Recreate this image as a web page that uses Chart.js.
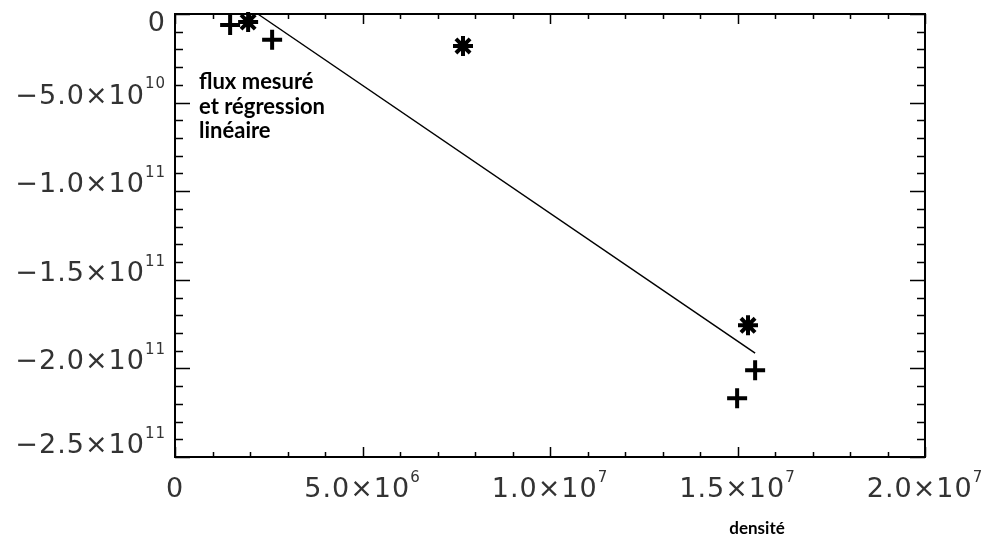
<!DOCTYPE html>
<html>
<head>
<meta charset="utf-8">
<script src="https://cdn.jsdelivr.net/npm/chart.js@4.4.1/dist/chart.umd.min.js"></script>
<style>
	html, body { margin: 0; padding: 0; background: #fff; }
	#wrap { width: 986px; height: 540px; }
</style>
</head>
<body>
<div id="wrap"><canvas id="c" width="986" height="540"></canvas></div>
<script>
// valeurs
const plusX = [1.47e6, 2.59e6, 15.47e6, 14.99e6];
const plusY = [-0.62e10, -1.46e10, -2.01e11, -2.168e11];
const starX = [1.95e6, 7.68e6, 15.28e6];
const starY = [-0.45e10, -1.80e10, -1.757e11];
const fitX = [2.21e6, 15.47e6];
const fitY = [0, -1.914e11];

// axes
const xMajor = [0, 5e6, 1e7, 1.5e7, 2e7];
const xMant = ['0', '5.0×10', '1.0×10', '1.5×10', '2.0×10'];
const xExp = ['', '6', '7', '7', '7'];
const xMinorStep = 1e6;
const yMajor = [0, -5e10, -1e11, -1.5e11, -2e11, -2.5e11];
const yMant = ['0', '−5.0×10', '−1.0×10', '−1.5×10', '−2.0×10', '−2.5×10'];
const yExp = ['', '10', '11', '11', '11', '11'];
const yMinorStep = 1e10;

const noteLines = ['flux mesuré', 'et régression', 'linéaire'];
const xTitle = 'densité';

const toPts = (xs, ys) => xs.map((x, i) => ({ x: x, y: ys[i] }));

const LABEL_FONT = '"DejaVu Sans", sans-serif';

// texte "mantisse × 10^exposant"
function drawSci(ctx, mant, exp, x, y, align) {
	ctx.font = '27px ' + LABEL_FONT;
	ctx.letterSpacing = '1px';
	const wm = ctx.measureText(mant).width;
	ctx.font = '15px ' + LABEL_FONT;
	const we = exp ? ctx.measureText(exp).width : 0;
	const total = wm + we;
	let sx = x;
	if (align === 'center') sx = x - total / 2;
	if (align === 'right') sx = x - total;
	ctx.textAlign = 'left';
	ctx.textBaseline = 'middle';
	ctx.font = '27px ' + LABEL_FONT;
	ctx.fillText(mant, sx, y);
	if (exp) {
		ctx.font = '15px ' + LABEL_FONT;
		ctx.fillText(exp, sx + wm, y - 12);
	}
	ctx.letterSpacing = '0px';
}

const framePlugin = {
	id: 'frame',
	afterDraw(chart) {
		const ctx = chart.ctx;
		const a = chart.chartArea;
		const xs = chart.scales.x, ys = chart.scales.y;
		ctx.save();
		ctx.strokeStyle = '#000';
		ctx.fillStyle = '#333';

		// cadre
		ctx.lineWidth = 2;
		ctx.strokeRect(a.left, a.top, a.right - a.left, a.bottom - a.top);

		// graduations x (bas et haut, vers l'intérieur)
		ctx.lineWidth = 1.5;
		for (let v = xs.min; v <= xs.max + 1; v += xMinorStep) {
			const px = Math.round(xs.getPixelForValue(v)) + 0.5;
			const major = xMajor.some(m => Math.abs(m - v) < 1);
			const len = major ? 10 : 5;
			ctx.beginPath();
			ctx.moveTo(px, a.bottom); ctx.lineTo(px, a.bottom - len);
			ctx.moveTo(px, a.top); ctx.lineTo(px, a.top + len);
			ctx.stroke();
		}
		// graduations y (gauche et droite)
		for (let v = ys.max; v >= ys.min - 1; v -= yMinorStep) {
			const py = Math.round(ys.getPixelForValue(v)) + 0.5;
			const major = yMajor.some(m => Math.abs(m - v) < 1);
			const len = major ? 15 : 8;
			ctx.beginPath();
			ctx.moveTo(a.left, py); ctx.lineTo(a.left + len, py);
			ctx.moveTo(a.right, py); ctx.lineTo(a.right - len, py);
			ctx.stroke();
		}

		// étiquettes
		xMajor.forEach((v, i) => {
			drawSci(ctx, xMant[i], xExp[i], xs.getPixelForValue(v), a.bottom + 33, 'center');
		});
		yMajor.forEach((v, i) => {
			let py = ys.getPixelForValue(v) - 6;
			if (i === 0) py = a.top + 10;
			if (i === yMajor.length - 1) py = a.bottom - 11;
			drawSci(ctx, yMant[i], yExp[i], a.left - 9, py, 'right');
		});

		// texte
		ctx.fillStyle = '#000';
		ctx.textAlign = 'left';
		ctx.textBaseline = 'alphabetic';
		ctx.font = 'bold 22px Lato, "Open Sans", sans-serif';
		noteLines.forEach((t, i) => ctx.fillText(t, a.left + 24, 89 + i * 24.5));
		ctx.textAlign = 'center';
		ctx.font = 'bold 17px Lato, "Open Sans", sans-serif';
		ctx.fillText(xTitle, 757, 534);
		ctx.restore();
	}
};

new Chart(document.getElementById('c'), {
	type: 'scatter',
	data: {
		datasets: [
			{
				type: 'line',
				data: toPts(fitX, fitY),
				borderColor: '#000',
				borderWidth: 1.5,
				pointRadius: 0,
				fill: false,
				clip: false
			},
			{
				data: toPts(plusX, plusY),
				pointStyle: 'cross',
				pointRadius: 10,
				borderWidth: 4,
				borderColor: '#000',
				backgroundColor: '#000',
				clip: false
			},
			{
				data: toPts(starX, starY),
				pointStyle: 'star',
				pointRadius: 10,
				borderWidth: 4,
				borderColor: '#000',
				backgroundColor: '#000',
				clip: false
			}
		]
	},
	options: {
		responsive: false,
		animation: false,
		layout: { padding: { left: 175, top: 13, right: 61, bottom: 83 } },
		plugins: { legend: { display: false }, tooltip: { enabled: false } },
		scales: {
			x: { type: 'linear', min: 0, max: 2e7, display: false },
			y: { type: 'linear', min: -2.5e11, max: 0, display: false }
		}
	},
	plugins: [framePlugin]
});
</script>
</body>
</html>
